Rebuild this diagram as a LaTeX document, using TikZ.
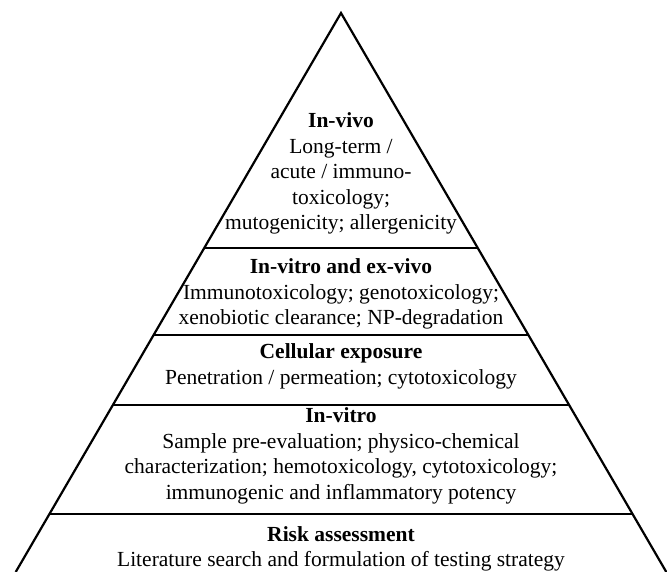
\documentclass[tikz,border=0pt]{standalone}
\usepackage{fontspec}
\setmainfont{Liberation Serif}
\usetikzlibrary{calc}

\begin{document}
\begin{tikzpicture}[x=1bp,y=-1bp,line width=2.2bp,
    tier/.style={align=center,inner sep=0pt,
      font=\fontsize{21.5bp}{25.5bp}\selectfont}]
  \useasboundingbox (0,0) rectangle (667,572);
  \coordinate (top) at (341,13);
  \coordinate (bl)  at (15.7,572);
  \coordinate (br)  at (666.3,572);

  % outline and tier borders
  \draw[line join=miter] (bl) -- (top) -- (br);
  \draw ($(top)!0.4204!(bl)$) -- ($(top)!0.4204!(br)$);
  \draw ($(top)!0.5760!(bl)$) -- ($(top)!0.5760!(br)$);
  \draw ($(top)!0.7013!(bl)$) -- ($(top)!0.7013!(br)$);
  \draw ($(top)!0.8962!(bl)$) -- ($(top)!0.8962!(br)$);

  \node[tier] (invivo)   at (341,173.5) {\textbf{In-vivo}\\Long-term /\\acute / immuno-\\toxicology;\\mutogenicity; allergenicity};
  \node[tier] (exvivo)   at (341,294)   {\textbf{In-vitro and ex-vivo}\\Immunotoxicology; genotoxicology;\\xenobiotic clearance; NP-degradation};
  \node[tier] (cellular) at (341,366.5) {\textbf{Cellular exposure}\\Penetration / permeation; cytotoxicology};
  \node[tier] (invitro)  at (341,456)   {\textbf{In-vitro}\\Sample pre-evaluation; physico-chemical\\characterization; hemotoxicology, cytotoxicology;\\immunogenic and inflammatory potency};
  \node[tier] (risk)     at (341,549)   {\textbf{Risk assessment}\\Literature search and formulation of testing strategy};
\end{tikzpicture}
\end{document}
